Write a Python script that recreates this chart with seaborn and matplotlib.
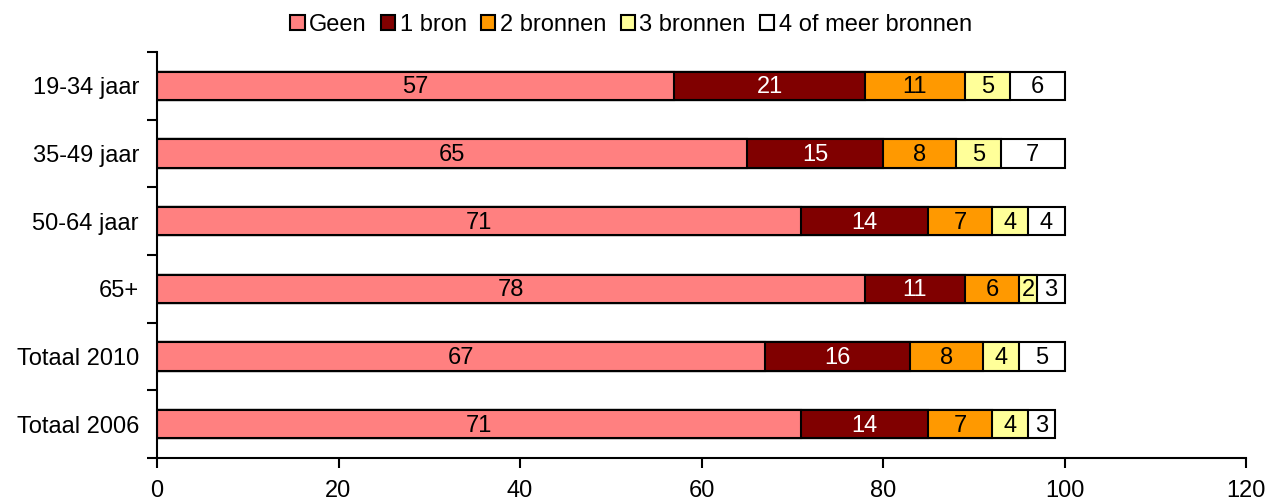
import numpy as np
import pandas as pd
import matplotlib
matplotlib.use('Agg')
import matplotlib.pyplot as plt
import seaborn as sns
from matplotlib.patches import Patch

groepen = ['19-34 jaar', '35-49 jaar', '50-64 jaar', '65+', 'Totaal 2010', 'Totaal 2006']
reeksen = ['Geen', '1 bron', '2 bronnen', '3 bronnen', '4 of meer bronnen']
geen = [57, 65, 71, 78, 67, 71]
een_bron = [21, 15, 14, 11, 16, 14]
twee_bronnen = [11, 8, 7, 6, 8, 7]
drie_bronnen = [5, 5, 4, 2, 4, 4]
vier_of_meer = [6, 7, 4, 3, 5, 3]
kleuren = ['#ff8080', '#800000', '#ff9900', '#ffff99', '#ffffff']
tekstkleur = ['black', 'white', 'black', 'black', 'black']

sns.set_style('ticks', {'text.color': 'black', 'xtick.color': 'black',
                        'ytick.color': 'black', 'axes.edgecolor': 'black'})
plt.rcParams['font.family'] = ['Liberation Sans', 'DejaVu Sans']

waarden = np.array([geen, een_bron, twee_bronnen, drie_bronnen, vier_of_meer])
cum = waarden.cumsum(axis=0)
df = pd.DataFrame({'groep': groepen})
for i, r in enumerate(reeksen):
    df[r] = cum[i]

fig = plt.figure(figsize=(12.7, 5.01), dpi=100)
ax = fig.add_axes([157 / 1270, 43 / 501, 1089 / 1270, 406 / 501])

# stacked bars: draw cumulative totals from largest to smallest
for i in range(len(reeksen) - 1, -1, -1):
    sns.barplot(data=df, x=reeksen[i], y='groep', order=groepen, orient='h',
                color=kleuren[i], saturation=1, width=0.42,
                edgecolor='black', linewidth=1.5, ax=ax)

for i in range(len(reeksen)):
    for j in range(len(groepen)):
        mid = cum[i, j] - waarden[i, j] / 2
        ax.text(mid, j + 0.02, str(waarden[i, j]), ha='center', va='center',
                fontsize=17, color=tekstkleur[i])

ax.set_xlim(0, 120)
ax.set_ylim(len(groepen) - 0.5, -0.5)
ax.set_xticks(range(0, 121, 20))
ax.set_yticks(np.arange(-0.5, len(groepen), 1), minor=True)
ax.tick_params(axis='y', which='major', length=0, pad=13, labelsize=17)
ax.tick_params(axis='y', which='minor', length=7, width=1.5)
ax.tick_params(axis='x', length=7, width=1.5, labelsize=17, pad=9)
ax.set_xlabel('')
ax.set_ylabel('')
sns.despine(ax=ax)
for s in ['left', 'bottom']:
    ax.spines[s].set_linewidth(1.5)

handles = [Patch(facecolor=kleuren[i], edgecolor='black', linewidth=1.5, label=r)
           for i, r in enumerate(reeksen)]
fig.legend(handles=handles, loc='upper center', bbox_to_anchor=(0.497, 1.015), ncol=5,
           frameon=False, fontsize=17, handlelength=0.6, handleheight=0.6,
           handletextpad=0.2, columnspacing=0.6)

plt.savefig('out.png', dpi=100)
